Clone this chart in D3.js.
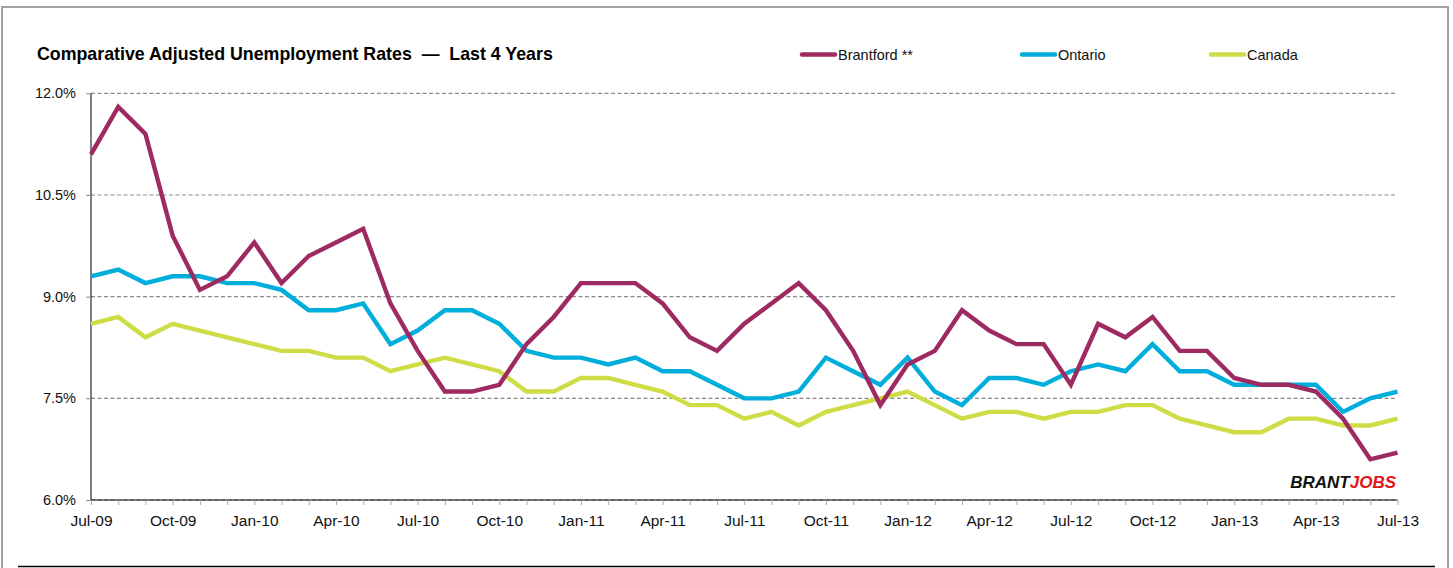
<!DOCTYPE html>
<html><head><meta charset="utf-8">
<script src="https://cdn.jsdelivr.net/npm/d3@7/dist/d3.min.js"></script>
<style>
html,body{margin:0;padding:0;background:#fff;}
svg{display:block;font-family:"Liberation Sans",Arial,sans-serif;}
</style></head>
<body>
<svg id="c" width="1453" height="568"></svg>
<script>
const months = ["Jul-09","Aug-09","Sep-09","Oct-09","Nov-09","Dec-09","Jan-10","Feb-10","Mar-10","Apr-10","May-10","Jun-10",
"Jul-10","Aug-10","Sep-10","Oct-10","Nov-10","Dec-10","Jan-11","Feb-11","Mar-11","Apr-11","May-11","Jun-11",
"Jul-11","Aug-11","Sep-11","Oct-11","Nov-11","Dec-11","Jan-12","Feb-12","Mar-12","Apr-12","May-12","Jun-12",
"Jul-12","Aug-12","Sep-12","Oct-12","Nov-12","Dec-12","Jan-13","Feb-13","Mar-13","Apr-13","May-13","Jun-13","Jul-13"];
const brantford = [11.1,11.8,11.4,9.9,9.1,9.3,9.8,9.2,9.6,9.8,10.0,8.9,
8.2,7.6,7.6,7.7,8.3,8.7,9.2,9.2,9.2,8.9,8.4,8.2,
8.6,8.9,9.2,8.8,8.2,7.4,8.0,8.2,8.8,8.5,8.3,8.3,
7.7,8.6,8.4,8.7,8.2,8.2,7.8,7.7,7.7,7.6,7.2,6.6,6.7];
const ontario = [9.3,9.4,9.2,9.3,9.3,9.2,9.2,9.1,8.8,8.8,8.9,8.3,
8.5,8.8,8.8,8.6,8.2,8.1,8.1,8.0,8.1,7.9,7.9,7.7,
7.5,7.5,7.6,8.1,7.9,7.7,8.1,7.6,7.4,7.8,7.8,7.7,
7.9,8.0,7.9,8.3,7.9,7.9,7.7,7.7,7.7,7.7,7.3,7.5,7.6];
const canada = [8.6,8.7,8.4,8.6,8.5,8.4,8.3,8.2,8.2,8.1,8.1,7.9,
8.0,8.1,8.0,7.9,7.6,7.6,7.8,7.8,7.7,7.6,7.4,7.4,
7.2,7.3,7.1,7.3,7.4,7.5,7.6,7.4,7.2,7.3,7.3,7.2,
7.3,7.3,7.4,7.4,7.2,7.1,7.0,7.0,7.2,7.2,7.1,7.1,7.2];
const yTicks = [6.0,7.5,9.0,10.5,12.0];
const xTickLabels = ["Jul-09","Oct-09","Jan-10","Apr-10","Jul-10","Oct-10","Jan-11","Apr-11","Jul-11","Oct-11","Jan-12","Apr-12","Jul-12","Oct-12","Jan-13","Apr-13","Jul-13"];
const seriesNames = ["Brantford **","Ontario","Canada"];
const seriesColors = ["#9E2A62","#00AEDB","#CEDC45"];

const svg = d3.select("#c");
const L = 91, R = 1397.5, T = 93.3, B = 500;

// frame
svg.append("rect").attr("x",2).attr("y",7).attr("width",1446).attr("height",600)
  .attr("fill","none").attr("stroke","#a0a0a0").attr("stroke-width",2);
svg.append("line").attr("x1",18).attr("x2",1435).attr("y1",566.5).attr("y2",566.5)
  .attr("stroke","#000").attr("stroke-width",1.5);

const x = d3.scalePoint().domain(months).range([L,R]);
const y = d3.scaleLinear().domain([6,12]).range([B,T]);

// gridlines
svg.append("g").selectAll("line").data(yTicks).join("line")
  .attr("x1",L).attr("x2",R).attr("y1",d=>y(d)).attr("y2",d=>y(d))
  .attr("stroke","#8c8c8c").attr("stroke-width",1.2).attr("stroke-dasharray","4,2.5");

// y axis
const yAxis = d3.axisLeft(y).tickValues(yTicks).tickSize(5).tickPadding(10).tickFormat(d=>d3.format(".1f")(d)+"%");
const gy = svg.append("g").attr("transform",`translate(${L},0)`).call(yAxis);
gy.select(".domain").attr("stroke","#000").attr("d",`M0,${T}V${B}`);
gy.selectAll(".tick line").attr("stroke","#888");
gy.selectAll("text").attr("font-size",14.5).attr("fill","#111").attr("font-family","'Liberation Sans',Arial,sans-serif");

// x axis
const xAxis = d3.axisBottom(x).tickSize(5).tickPadding(10).tickFormat(d=>xTickLabels.includes(d)?d:"");
const gx = svg.append("g").attr("transform",`translate(0,${B})`).call(xAxis);
gx.select(".domain").attr("stroke","#000").attr("d",`M${L},0H${R}`);
gx.selectAll(".tick line").attr("stroke","#aaa");
gx.selectAll("text").attr("font-size",15.5).attr("fill","#111").attr("font-family","'Liberation Sans',Arial,sans-serif");

// lines
const line = d3.line().x((d,i)=>x(months[i])).y(d=>y(d));
const allSeries = [brantford, ontario, canada];
[2,1,0].forEach(k=>{
  svg.append("path").datum(allSeries[k]).attr("d",line)
    .attr("fill","none").attr("stroke",seriesColors[k]).attr("stroke-width",4.4)
    .attr("stroke-linejoin","miter").attr("stroke-miterlimit",3);
});

// title
svg.append("text").attr("x",37).attr("y",60).attr("font-size",17.8).attr("font-weight","bold").attr("fill","#000")
  .style("white-space","pre").text("Comparative Adjusted Unemployment Rates  \u2014  Last 4 Years");

// legend
const legX = [800,1020,1209];
seriesNames.forEach((n,i)=>{
  svg.append("line").attr("x1",legX[i]+2).attr("x2",legX[i]+35).attr("y1",54.5).attr("y2",54.5)
    .attr("stroke",seriesColors[i]).attr("stroke-width",4.5).attr("stroke-linecap","round");
  svg.append("text").attr("x",legX[i]+38).attr("y",59.5).attr("font-size",14.5).attr("fill","#111").text(n);
});

// logo
const logo = svg.append("text").attr("x",1396).attr("y",488).attr("text-anchor","end")
  .attr("font-size",17).attr("font-weight","bold").attr("font-style","italic");
logo.append("tspan").attr("fill","#111").text("BRANT");
logo.append("tspan").attr("fill","#e3141b").text("JOBS");
</script>
</body></html>
